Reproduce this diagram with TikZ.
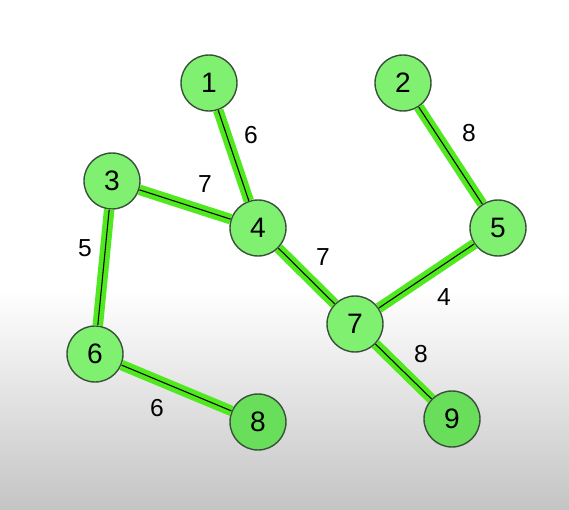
\documentclass[tikz,border=0pt]{standalone}
\usepackage{fontspec}
\setmainfont{Liberation Sans}
\usepackage{tikz}
\usetikzlibrary{backgrounds}
\usepackage{xcolor}
\definecolor{vertex-green}{RGB}{128,240,112}
\definecolor{vertex-dark}{RGB}{104,222,90}
\definecolor{edge-green}{RGB}{80,232,30}
\definecolor{rim}{RGB}{58,80,58}
\tikzstyle{vertex}=[circle, draw=rim, line width=.8pt, fill=vertex-green, minimum size=1.12cm, inner sep=0pt, font=\fontsize{16}{18}\selectfont]
\tikzstyle{lowvertex}=[vertex, fill=vertex-dark]
\tikzstyle{tree}=[draw=black, line width=.6pt, preaction={draw=edge-green, line width=6pt}]
\tikzstyle{weight}=[font=\fontsize{14}{16}\selectfont]

\begin{document}
\begin{tikzpicture}[x=0.02cm, y=-0.02cm]
	\useasboundingbox (0,0) rectangle (569,510);
	\fill[white] (0,0) rectangle (569,290);
	\shade[top color=white, bottom color=black!23] (0,290) rectangle (569,510);
	\node[vertex] (v1) at (209,83) {1};
	\node[vertex] (v2) at (403,83) {2};
	\node[vertex] (v3) at (112,181) {3};
	\node[vertex] (v4) at (258,228) {4};
	\node[vertex] (v5) at (498,228) {5};
	\node[vertex] (v6) at (95,354) {6};
	\node[vertex] (v7) at (355,324) {7};
	\node[lowvertex] (v8) at (258,422) {8};
	\node[lowvertex] (v9) at (452,419) {9};
	\draw[tree] (v1)--(v4);
	\draw[tree] (v2)--(v5);
	\draw[tree] (v3)--(v4);
	\draw[tree] (v3)--(v6);
	\draw[tree] (v4)--(v7);
	\draw[tree] (v5)--(v7);
	\draw[tree] (v7)--(v9);
	\draw[tree] (v6)--(v8);
	\node[weight] (w14) at (251,135) {6};
	\node[weight] (w25) at (469,133) {8};
	\node[weight] (w34) at (205,184) {7};
	\node[weight] (w36) at (85,248) {5};
	\node[weight] (w47) at (323,257) {7};
	\node[weight] (w57) at (444,297) {4};
	\node[weight] (w79) at (421,354) {8};
	\node[weight] (w68) at (157,408) {6};
\end{tikzpicture}
\end{document}
